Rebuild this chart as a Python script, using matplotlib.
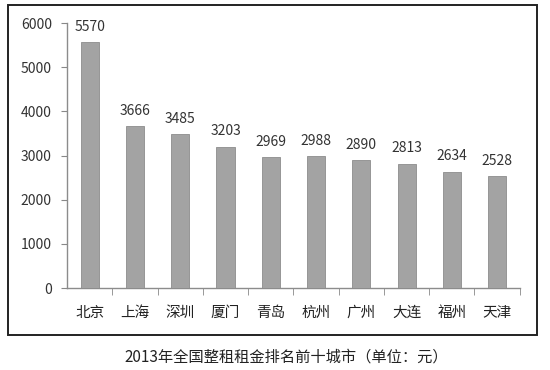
import matplotlib
matplotlib.use("Agg")
import matplotlib.pyplot as plt
from matplotlib.patches import Rectangle

plt.rcParams["font.family"] = ["Noto Sans CJK SC", "DejaVu Sans"]

cities = ["北京", "上海", "深圳", "厦门", "青岛", "杭州", "广州", "大连", "福州", "天津"]
rents = [5570, 3666, 3485, 3203, 2969, 2988, 2890, 2813, 2634, 2528]
title = "2013年全国整租租金排名前十城市（单位：元）"

fig = plt.figure(figsize=(5.5, 3.7), dpi=100)
fig.patch.set_facecolor("white")
ax = fig.add_axes([0.122, 0.2216, 0.823, 0.716])

x = list(range(len(cities)))
ax.bar(x, rents, width=0.4, color="#a3a3a3", edgecolor="#8c8c8c", linewidth=0.6, zorder=3)
for xi, v in zip(x, rents):
    ax.annotate(str(v), (xi, v), xytext=(0, 6), textcoords="offset points",
                ha="center", va="bottom", fontsize=10, color="#333333")

ax.set_xlim(-0.5, len(cities) - 0.5)
ax.set_ylim(0, 6000)
ax.set_yticks(range(0, 6001, 1000))
ax.set_xticks(x)
ax.set_xticklabels(cities, fontsize=10.5, color="#222222")
ax.set_xticks([i + 0.5 for i in x], minor=True)
ax.tick_params(axis="x", which="major", length=0, pad=13)
ax.tick_params(axis="x", which="minor", length=5, color="#888888", direction="out")
ax.tick_params(axis="y", length=4, color="#888888", labelsize=10, labelcolor="#333333", pad=7)

for s in ["top", "right"]:
    ax.spines[s].set_visible(False)
for s in ["left", "bottom"]:
    ax.spines[s].set_color("#8c8c8c")
    ax.spines[s].set_linewidth(1.0)

fig.patches.append(Rectangle((0.0145, 0.0946), 0.962, 0.892, transform=fig.transFigure,
                             fill=False, edgecolor="#222222", linewidth=1.4))
fig.text(0.52, 0.035, title, ha="center", va="center", fontsize=11, color="#222222")

fig.savefig("out.png", dpi=100)
